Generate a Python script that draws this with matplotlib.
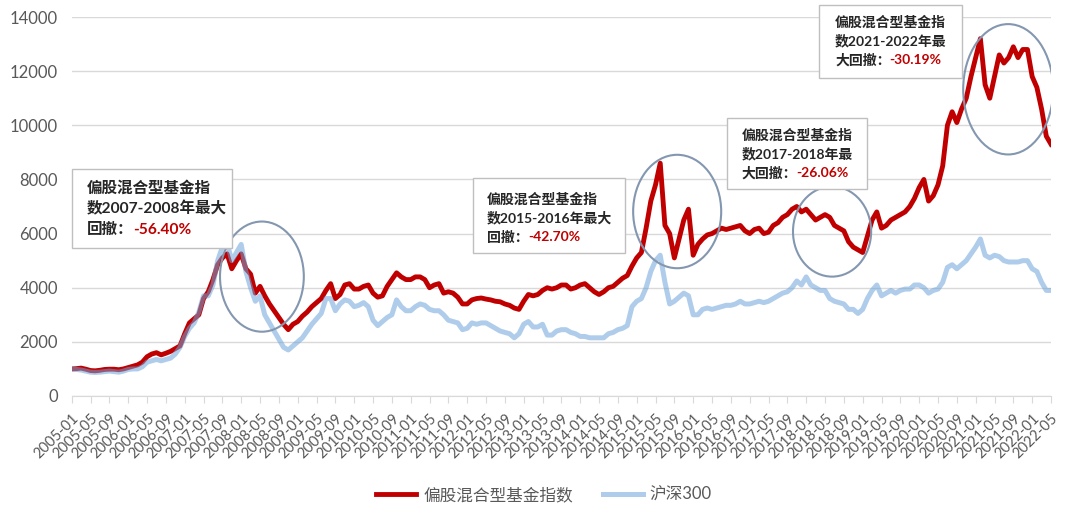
import numpy as np
import pandas as pd
import matplotlib
matplotlib.use("Agg")
import matplotlib.pyplot as plt
from matplotlib.patches import Ellipse, Rectangle

plt.rcParams['font.family'] = ['Lato', 'Noto Sans CJK SC', 'DejaVu Sans']

# monthly values, 2005-01 .. 2022-05
fund_index = [
    1000, 1010, 1030, 990, 940, 930, 950, 980, 990, 990, 970, 1000,
    1050, 1100, 1150, 1250, 1450, 1550, 1600, 1520, 1580, 1650, 1750, 1850,
    2300, 2700, 2850, 3000, 3600, 3850, 4300, 4850, 5100, 5250, 4700, 5000,
    5250, 4700, 4500, 3800, 4050, 3700, 3400, 3150, 2900, 2650, 2450, 2650,
    2750, 2950, 3100, 3300, 3450, 3600, 3900, 4150, 3600, 3750, 4100, 4150,
    3950, 3950, 4050, 4100, 3800, 3650, 3700, 4050, 4300, 4550, 4400, 4300,
    4300, 4400, 4400, 4300, 4000, 4100, 4150, 3800, 3850, 3800, 3650, 3400,
    3400, 3550, 3600, 3620, 3580, 3550, 3500, 3480, 3400, 3350, 3250, 3200,
    3500, 3750, 3700, 3750, 3900, 4000, 3950, 4000, 4100, 4100, 3950, 4000,
    4100, 4150, 4000, 3850, 3750, 3850, 4000, 4050, 4200, 4350, 4450, 4800,
    5100, 5300, 6200, 7200, 7800, 8600, 6300, 6000, 5100, 5800, 6500, 6900,
    5200, 5600, 5800, 5950, 6000, 6100, 6200, 6150, 6200, 6250, 6300, 6100,
    6000, 6150, 6200, 6000, 6050, 6300, 6400, 6600, 6700, 6900, 7000, 6800,
    6900, 6700, 6500, 6600, 6700, 6600, 6300, 6200, 6100, 5700, 5500, 5400,
    5300, 5900, 6500, 6800, 6200, 6300, 6500, 6600, 6700, 6800, 7000, 7300,
    7700, 8000, 7200, 7400, 7800, 8500, 10000, 10500, 10100, 10600, 11000, 11800,
    12500, 13200, 11500, 11000, 11800, 12600, 12300, 12500, 12900, 12500, 12800, 12800,
    11800, 11400, 10600, 9600, 9300,
]

hs300 = [
    1000, 980, 960, 920, 880, 870, 880, 900, 920, 900, 880, 920,
    980, 1000, 1000, 1080, 1250, 1300, 1350, 1300, 1350, 1400, 1550, 1800,
    2200, 2500, 2700, 3100, 3700, 3700, 4100, 5000, 5500, 5650, 5000, 5300,
    5600, 4600, 4000, 3500, 3700, 3000, 2700, 2400, 2100, 1800, 1700, 1850,
    2000, 2150, 2400, 2650, 2850, 3050, 3600, 3600, 3150, 3400, 3550, 3500,
    3300, 3350, 3450, 3300, 2800, 2600, 2750, 2900, 3000, 3550, 3300, 3150,
    3150, 3300, 3400, 3350, 3200, 3150, 3150, 3000, 2800, 2750, 2700, 2450,
    2500, 2700, 2650, 2700, 2700, 2600, 2500, 2400, 2350, 2300, 2150, 2300,
    2650, 2750, 2550, 2550, 2650, 2250, 2250, 2400, 2450, 2450, 2350, 2300,
    2200, 2200, 2150, 2150, 2150, 2150, 2300, 2350, 2450, 2500, 2600, 3300,
    3500, 3600, 4000, 4600, 5000, 5200, 4200, 3400, 3500, 3650, 3800, 3700,
    3000, 3000, 3200, 3250, 3200, 3250, 3300, 3350, 3350, 3400, 3500, 3400,
    3400, 3450, 3500, 3450, 3500, 3600, 3700, 3800, 3850, 4000, 4250, 4100,
    4400, 4100, 4000, 3900, 3900, 3600, 3500, 3450, 3400, 3200, 3200, 3050,
    3200, 3600, 3900, 4100, 3700, 3800, 3900, 3800, 3900, 3950, 3950, 4100,
    4100, 4000, 3800, 3900, 3950, 4200, 4750, 4850, 4700, 4850, 5000, 5250,
    5500, 5800, 5200, 5100, 5200, 5150, 5000, 4950, 4950, 4950, 5000, 5000,
    4700, 4600, 4200, 3900, 3900,
]

months = pd.date_range("2005-01-01", "2022-05-01", freq="MS")
tick_idx = list(range(0, len(months), 4))
tick_labels = [months[i].strftime("%Y-%m") for i in tick_idx]
y_ticks = [0, 2000, 4000, 6000, 8000, 10000, 12000, 14000]

series_names = ["偏股混合型基金指数", "沪深300"]

# drawdown notes: text lines + red percentage
notes = [
    (["偏股混合型基金指", "数2007-2008年最大", "回撤："], "-56.40%"),
    (["偏股混合型基金指", "数2015-2016年最大", "回撤："], "-42.70%"),
    (["偏股混合型基金指", "数2017-2018年最", "大回撤："], "-26.06%"),
    (["偏股混合型基金指", "数2021-2022年最", "大回撤："], "-30.19%"),
]

W, H = 1080, 519
fig = plt.figure(figsize=(W / 100, H / 100), dpi=100)
ax = fig.add_axes([71.7 / W, 1 - 396 / H, (1051 - 71.7) / W, (396 - 17) / H])

x = np.arange(len(months))
red = "#C00000"
blue = (110 / 255, 165 / 255, 220 / 255)
ax.plot(x, fund_index, color=red, lw=3.5, solid_joinstyle="round", label=series_names[0], zorder=3)
ax.plot(x, hs300, color=blue, alpha=0.55, lw=3.6, solid_joinstyle="round", label=series_names[1], zorder=4)

ax.set_xlim(0, len(months) - 1)
ax.set_ylim(0, 14000)
ax.set_yticks(y_ticks)
ax.set_yticklabels([str(v) for v in y_ticks])
ax.set_xticks(tick_idx)
ax.set_xticklabels(tick_labels, rotation=45, ha="right", rotation_mode="anchor")
ax.grid(axis="y", color="#D9D9D9", lw=1)
ax.set_axisbelow(True)
for s in ["top", "right", "left"]:
    ax.spines[s].set_visible(False)
ax.spines["bottom"].set_color("#D9D9D9")
ax.tick_params(axis="x", length=5, color="#D9D9D9", labelsize=10.5, labelcolor="#595959", pad=6)
ax.tick_params(axis="y", length=0, labelsize=12, labelcolor="#595959", pad=10)

# circles around the drawdowns (month, value, width, height)
for cx, cy, w, h in [(40.4, 4410, 17.8, 4070), (128.6, 6815, 18.7, 4190),
                     (161.5, 6075, 16.6, 3330), (198.9, 11330, 19.1, 4815)]:
    ax.add_patch(Ellipse((cx, cy), w, h, fill=False, edgecolor="#8497B0", lw=1.5, zorder=5))

# boxes: rect in pixels, text left, line centres, red x, font size
boxes = [
    ((72, 169, 232, 248), 87, (188, 209, 230), 133, 11.2),
    ((473, 178, 625, 253), 487, (199, 218, 237), 528, 10),
    ((727, 118, 867, 189), 742, (135, 154, 173), 796, 10),
    ((819, 5, 962, 78), 835, (22, 41, 60), 889, 10),
]
for (lines, pct), (rect, tx, ys, rx, fs) in zip(notes, boxes):
    x0, y0, x1, y1 = rect
    fig.add_artist(Rectangle((x0 / W, 1 - y1 / H), (x1 - x0) / W, (y1 - y0) / H,
                             transform=fig.transFigure, facecolor="white",
                             edgecolor="#BFBFBF", lw=1, zorder=10))
    for line, yy in zip(lines, ys):
        fig.text(tx / W, 1 - yy / H, line, fontsize=fs, color="#262626",
                 weight="bold", va="center", zorder=11)
    fig.text(rx / W, 1 - ys[-1] / H, pct, fontsize=fs, color=red,
             weight="bold", va="center", zorder=11)

fig.legend(loc="center", bbox_to_anchor=(544 / W, 1 - 495 / H), ncol=2, frameon=False,
           fontsize=12, labelcolor="#595959", handlelength=2.4, columnspacing=1.8,
           handletextpad=0.4)

fig.savefig("out.png", dpi=100)
